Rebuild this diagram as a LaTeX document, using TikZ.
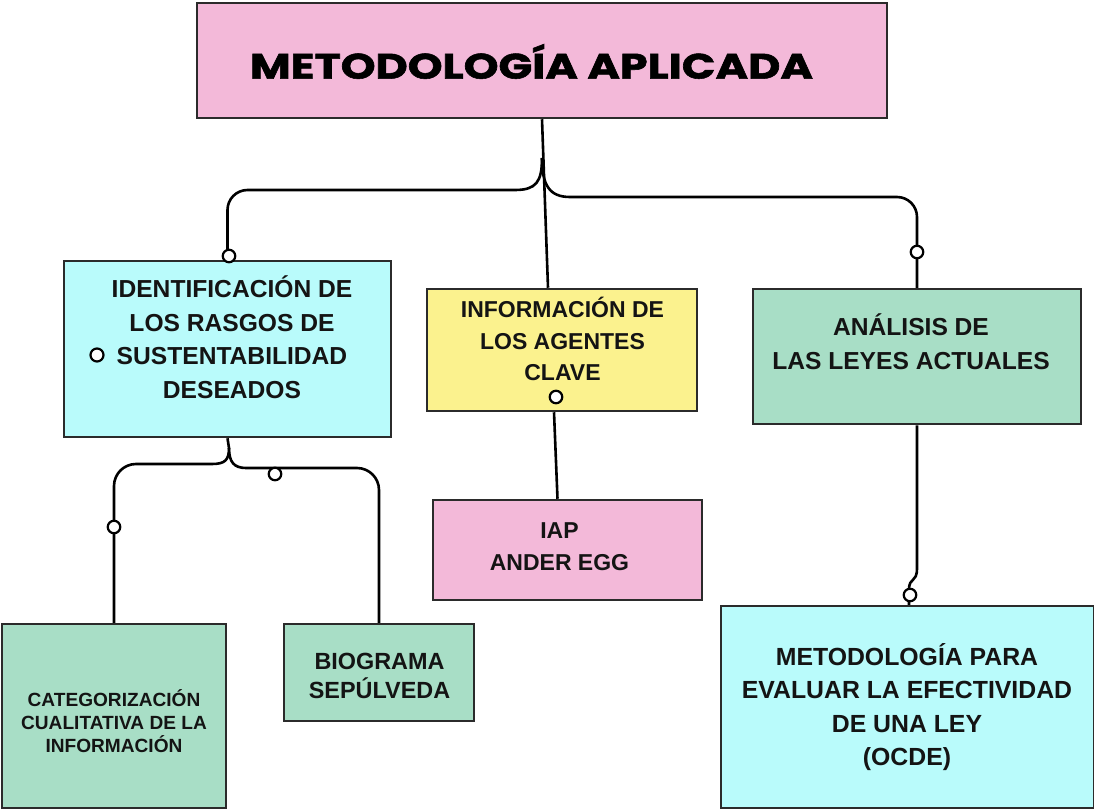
\documentclass[tikz,border=0pt]{standalone}
\usepackage{fontspec}
\setmainfont{Liberation Sans}
\newfontfamily\titlefont{Poppins}[FakeBold=1.5]
\definecolor{pinkbox}{HTML}{F3B9D9}
\definecolor{cyanbox}{HTML}{B9FBFB}
\definecolor{yellowbox}{HTML}{FBF28E}
\definecolor{greenbox}{HTML}{A8DEC6}
\definecolor{edge}{HTML}{2B2B2B}
\definecolor{ink}{HTML}{141414}
\begin{document}
\begin{tikzpicture}[x=1pt,y=-1pt,
  box/.style={draw=edge, line width=2.5pt, rectangle, inner sep=0pt},
  txt/.style={align=center, text=ink, font=\bfseries, inner sep=0pt},
  conn/.style={draw=black, line width=2.6pt},
  ring/.style={circle, draw=black, fill=white, line width=2.2pt, minimum size=12.5pt, inner sep=0pt}]
\useasboundingbox[fill=white] (0,0) rectangle (1094,810);
% boxes
\node[box, fill=pinkbox, minimum width=690pt, minimum height=115pt] (title) at (542,60.5) {};
\node[box, fill=cyanbox, minimum width=327pt, minimum height=176pt] (idf) at (227.5,349) {};
\node[box, fill=yellowbox, minimum width=270pt, minimum height=122pt] (info) at (562,350) {};
\node[box, fill=greenbox, minimum width=328pt, minimum height=135pt] (ana) at (917,356.5) {};
\node[box, fill=pinkbox, minimum width=269pt, minimum height=100pt] (iap) at (567.5,550) {};
\node[box, fill=greenbox, minimum width=224pt, minimum height=184pt] (cat) at (114,716) {};
\node[box, fill=greenbox, minimum width=190pt, minimum height=97pt] (bio) at (379,672.5) {};
\node[box, fill=cyanbox, minimum width=373pt, minimum height=202pt] (met) at (907.5,707) {};
% texts
\node[inner sep=0pt] (title-t) at (531.5,61.5) {\resizebox{563pt}{!}{\scalebox{1}[0.8]{\titlefont\bfseries METODOLOGÍA APLICADA}}};
\node[txt, font=\fontsize{24.6}{33.5}\selectfont\bfseries] (idf-t) at (232,337) {IDENTIFICACIÓN DE\\LOS RASGOS DE\\SUSTENTABILIDAD\\DESEADOS};
\node[txt, font=\fontsize{23}{31.5}\selectfont\bfseries] (info-t) at (562.5,339) {INFORMACIÓN DE\\LOS AGENTES\\CLAVE};
\node[txt, font=\fontsize{24.6}{34}\selectfont\bfseries] (ana-t) at (911,341.5) {ANÁLISIS DE\\LAS LEYES ACTUALES};
\node[txt, font=\fontsize{23}{32}\selectfont\bfseries] (iap-t) at (559.5,547) {IAP\\ANDER EGG};
\node[txt, font=\fontsize{23.4}{29}\selectfont\bfseries] (bio-t) at (379.5,675.5) {BIOGRAMA\\SEPÚLVEDA};
\node[txt, font=\fontsize{19.1}{23}\selectfont\bfseries] (cat-t) at (114,721) {CATEGORIZACIÓN\\CUALITATIVA DE LA\\INFORMACIÓN};
\node[txt, font=\fontsize{24.8}{33.3}\selectfont\bfseries] (met-t) at (907,707) {METODOLOGÍA PARA\\EVALUAR LA EFECTIVIDAD\\DE UNA LEY\\(OCDE)};
% junction coordinates
\coordinate (jt) at (542,158);
\coordinate (jl) at (515,190);
\coordinate (jr) at (570,197);
\coordinate (jb) at (229,448);
\coordinate (jbl) at (212,464);
\coordinate (jbr) at (246,468);
\coordinate (jm1) at (917,568);
\coordinate (jm2) at (909,590);
% connectors
\draw[conn] (title.south) -- ([xshift=-14pt]info.north);
\draw[conn] (jt) .. controls (542,182) and (536,190) .. (jl) [rounded corners=20pt] -- (idf.north |- jl) -- (idf.north);
\draw[conn] (jt) .. controls (542,186) and (550,197) .. (jr) [rounded corners=20pt] -- (ana.north |- jr) -- (ana.north);
\draw[conn] ([xshift=-8pt]info.south) -- ([xshift=-10pt]iap.north);
\draw[conn] (idf.south) -- (jb) .. controls (229,460) and (225,464) .. (jbl) [rounded corners=22pt] -- (cat.north |- jbl) -- (cat.north);
\draw[conn] (jb) .. controls (229,462) and (234,468) .. (jbr) [rounded corners=22pt] -- (bio.north |- jbr) -- (bio.north);
\draw[conn] (ana.south) -- (jm1) .. controls (917,584) and (909,576) .. (jm2) -- (met.north -| jm2);
% rings
\node[ring] (r1) at (229,256) {};
\node[ring] (r2) at (917,252) {};
\node[ring] (r3) at (556,397) {};
\node[ring] (r4) at (114,527) {};
\node[ring] (r5) at (275,474) {};
\node[ring] (r6) at (910,595) {};
\node[ring, minimum size=13pt] (r7) at (97,355) {};
\end{tikzpicture}
\end{document}
